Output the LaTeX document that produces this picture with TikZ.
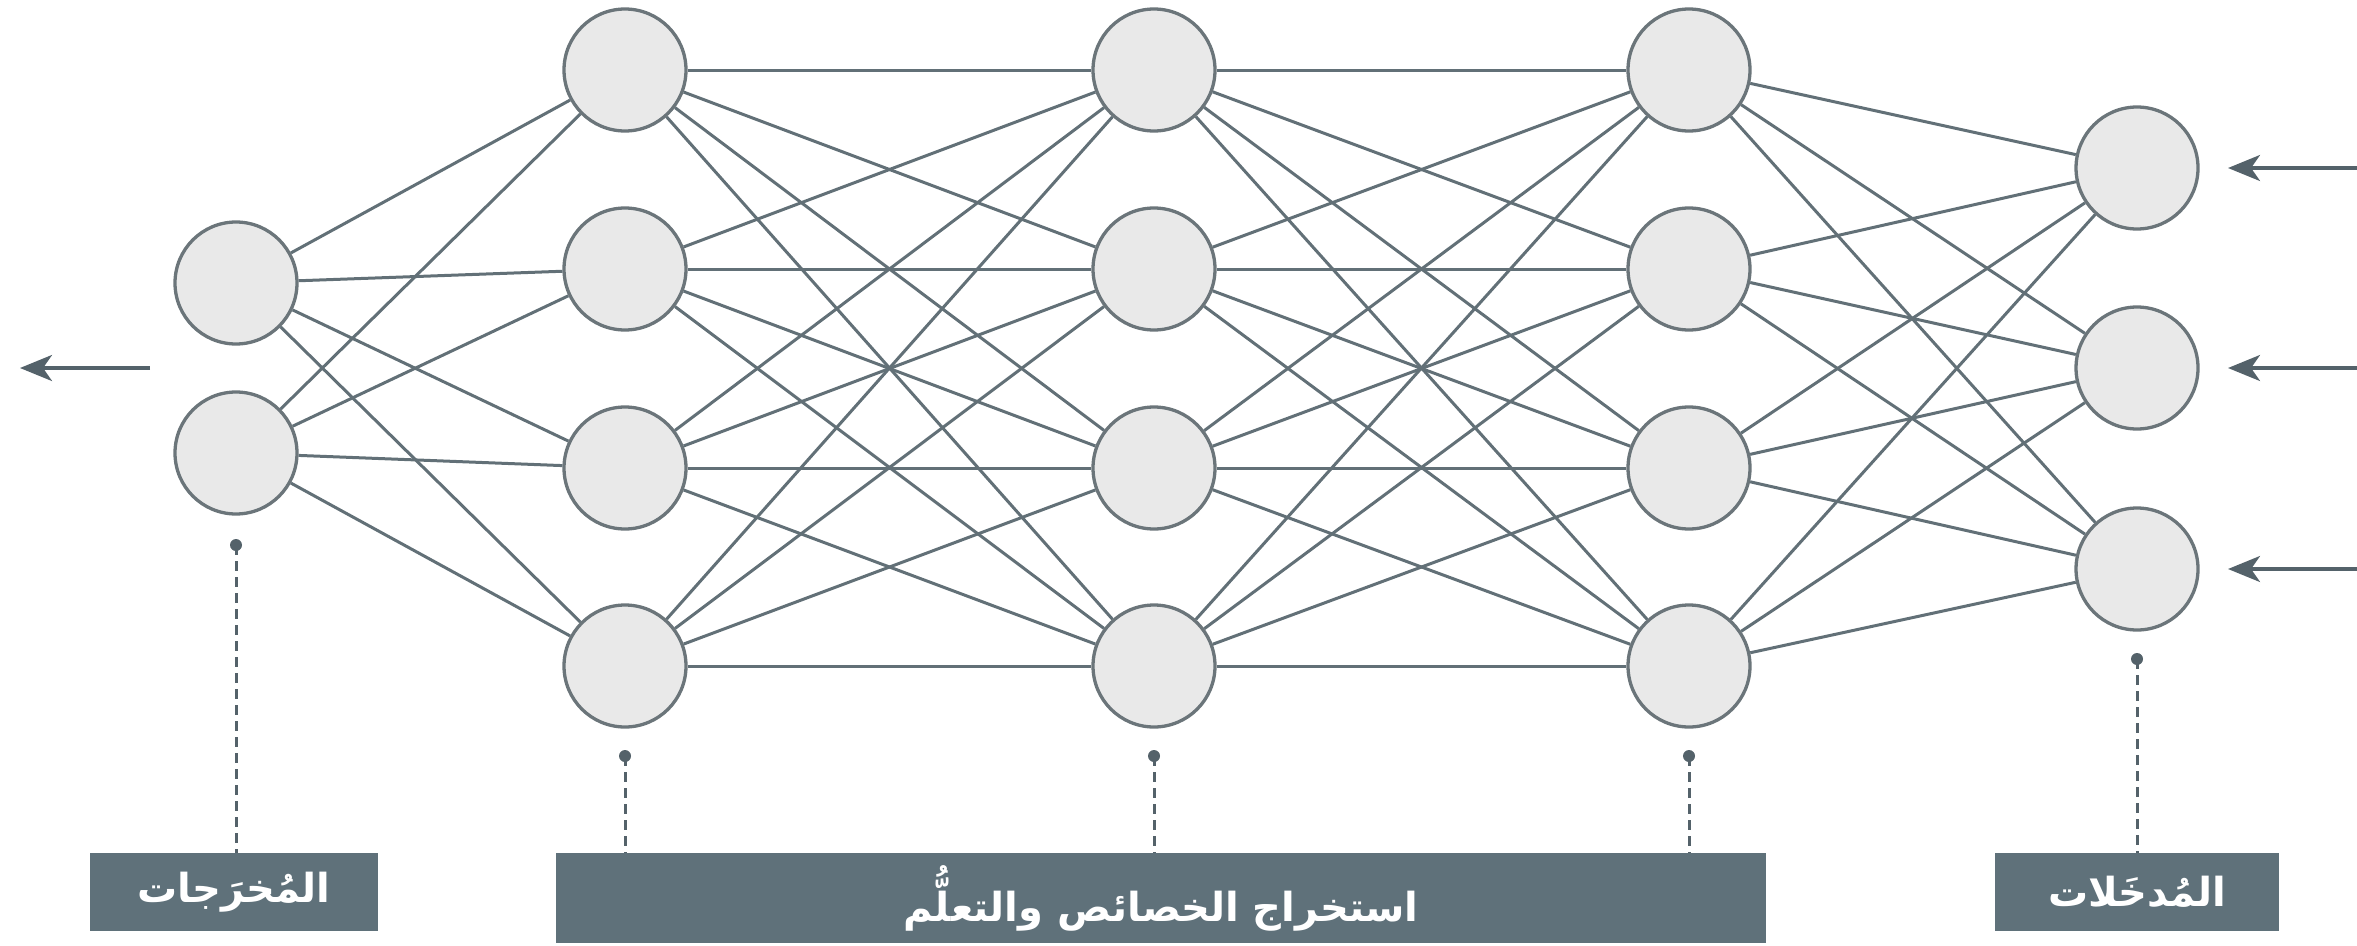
\documentclass[tikz,border=0pt]{standalone}
\usepackage{fontspec}
\TeXXeTstate=1
\newfontfamily\arabicfont[Script=Arabic]{DejaVu Sans}
\usetikzlibrary{arrows.meta}
\definecolor{edgec}{HTML}{627077}
\definecolor{nodeline}{HTML}{6B757A}
\definecolor{nodefill}{HTML}{E9E9E9}
\definecolor{arrowc}{HTML}{54626A}
\definecolor{boxc}{HTML}{5F717A}
\begin{document}
\begin{tikzpicture}[x=1pt,y=-1pt,
  neuron/.style={circle,draw=nodeline,fill=nodefill,line width=3.3pt,minimum size=122pt,inner sep=0pt},
  conn/.style={draw=edgec,line width=3pt},
  arr/.style={draw=arrowc,line width=3.5pt,-{Stealth[length=32pt,width=26pt,inset=9pt]}},
  pin/.style={circle,fill=arrowc,inner sep=0pt,minimum size=12pt},
  lead/.style={draw=arrowc,line width=3pt,dash pattern=on 10pt off 6pt},
  tagbox/.style={fill=boxc,inner sep=0pt,text=white,font=\arabicfont\bfseries\fontsize{40}{48}\selectfont},
]
\useasboundingbox (0,0) rectangle (2357,945);
% neurons
\node[neuron] (o1) at (236,283) {};
\node[neuron] (o2) at (236,453) {};
\foreach \i/\y in {1/70,2/269,3/468,4/666}{
  \node[neuron] (a\i) at (625,\y) {};
  \node[neuron] (b\i) at (1154,\y) {};
  \node[neuron] (c\i) at (1689,\y) {};
}
\node[neuron] (i1) at (2137,168) {};
\node[neuron] (i2) at (2137,368) {};
\node[neuron] (i3) at (2137,569) {};
% connections
\foreach \o in {1,2}{\foreach \j in {1,...,4}{\draw[conn] (o\o) -- (a\j);}}
\foreach \i in {1,...,4}{\foreach \j in {1,...,4}{
  \draw[conn] (a\i) -- (b\j);
  \draw[conn] (b\i) -- (c\j);
}}
\foreach \i in {1,...,4}{\foreach \j in {1,2,3}{\draw[conn] (c\i) -- (i\j);}}
% arrows
\coordinate (os) at (150,368);
\coordinate (oe) at (20,368);
\draw[arr] (os) -- (oe);
\foreach \j/\y in {1/168,2/368,3/569}{
  \coordinate (is\j) at (2357,\y);
  \coordinate (ie\j) at (2228,\y);
  \draw[arr] (is\j) -- (ie\j);
}
% label boxes
\node[tagbox,minimum width=288pt,minimum height=78pt] (ob) at (234,892) {\beginR المُخرَجات\endR};
\node[tagbox,minimum width=1210pt,minimum height=90pt] (mb) at (1161,898) {\beginR استخراج الخصائص والتعلُّم\endR};
\node[tagbox,minimum width=284pt,minimum height=78pt] (ib) at (2137,892) {\beginR المُدخَلات\endR};
% pins and leaders
\node[pin] (p0) at (236,545) {};
\node[pin] (p1) at (625,756) {};
\node[pin] (p2) at (1154,756) {};
\node[pin] (p3) at (1689,756) {};
\node[pin] (p4) at (2137,659) {};
\draw[lead] (p0.center) -- (p0.center |- ob.north);
\draw[lead] (p1.center) -- (p1.center |- mb.north);
\draw[lead] (p2.center) -- (p2.center |- mb.north);
\draw[lead] (p3.center) -- (p3.center |- mb.north);
\draw[lead] (p4.center) -- (p4.center |- ib.north);
\end{tikzpicture}
\end{document}
